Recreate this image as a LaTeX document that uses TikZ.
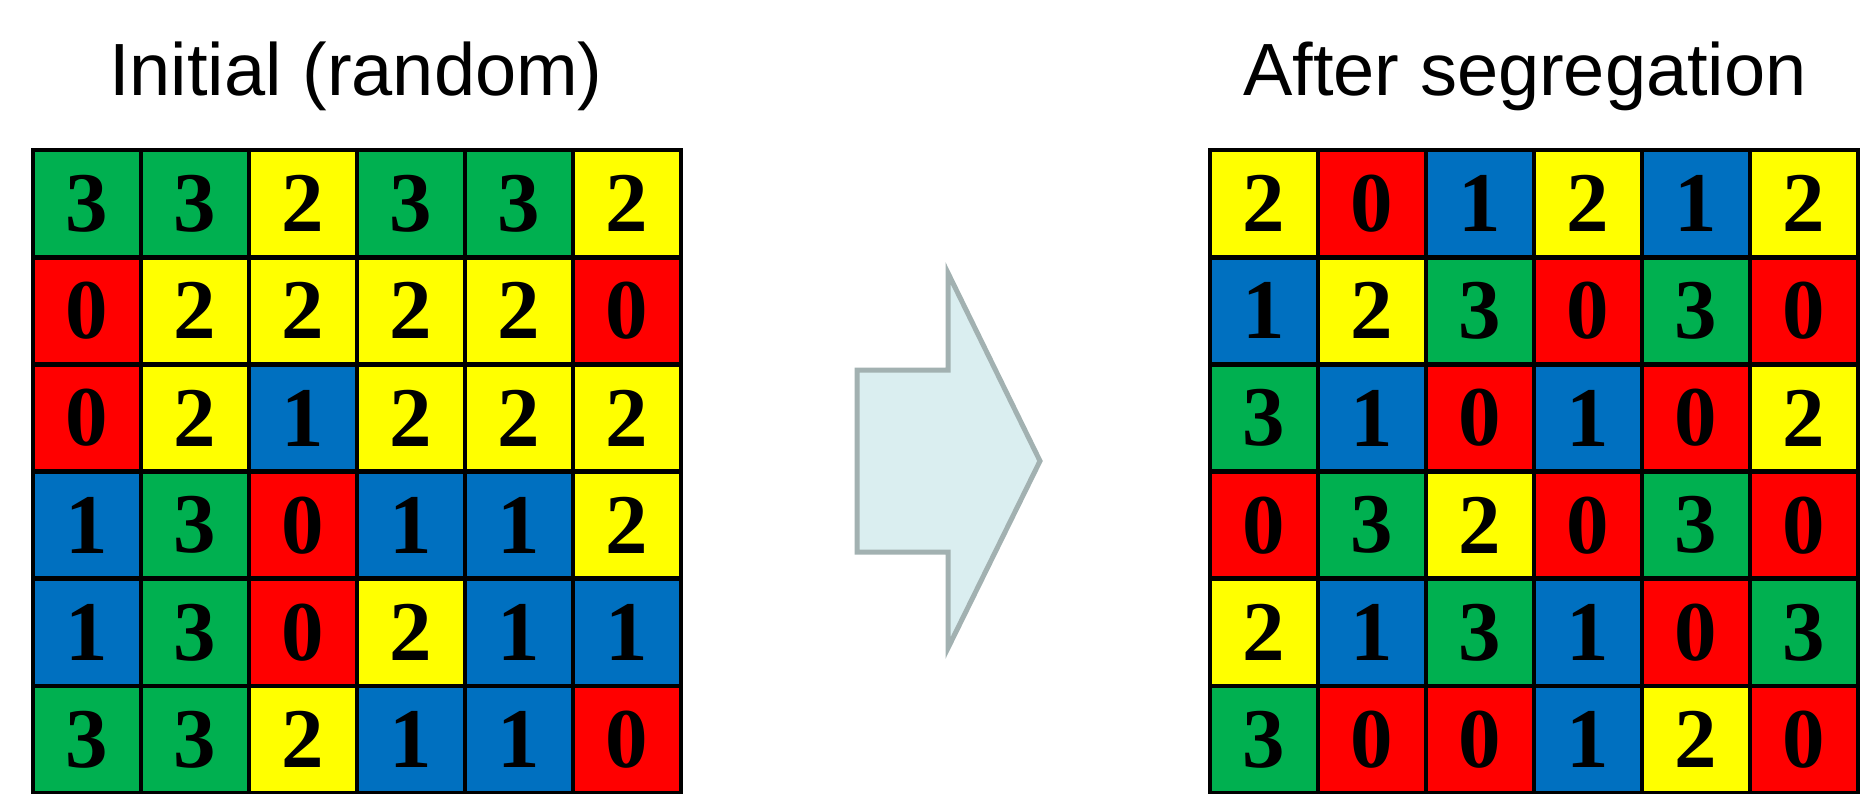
\documentclass[tikz,border=0pt]{standalone}
\usepackage{fontspec}
\setmainfont{Liberation Serif}
\newfontfamily\headfont{Liberation Sans}
\definecolor{c0}{HTML}{FF0000}
\definecolor{c1}{HTML}{0070C0}
\definecolor{c2}{HTML}{FFFF00}
\definecolor{c3}{HTML}{00B050}
\definecolor{arrowfill}{HTML}{DAEEF0}
\definecolor{arrowline}{HTML}{A2B1B1}
\begin{document}
\begin{tikzpicture}[x=0.5pt,y=-0.5pt,
  cell/.style={draw=black, line width=2.4pt, minimum width=54pt, minimum height=53.6pt,
    inner sep=0pt, font=\bfseries\fontsize{42.5}{42.5}\selectfont},
  heading/.style={anchor=base, inner sep=0pt, font=\headfont\fontsize{37}{37}\selectfont},
  bigarrow/.style={fill=arrowfill, draw=arrowline, line width=2.5pt, line join=miter}]
\useasboundingbox (0,0) rectangle (1864,793);
\clip (0,0) rectangle (1864,793);

% headings
\node[heading] (initial) at (356,95) {Initial (random)};
\node[heading] (after) at (1525,95) {After segregation};

% starting configuration
\foreach \row [count=\r] in {{3,3,2,3,3,2},{0,2,2,2,2,0},{0,2,1,2,2,2},{1,3,0,1,1,2},{1,3,0,2,1,1},{3,3,2,1,1,0}}
  \foreach \v [count=\c] in \row
    \node[cell, fill=c\v] (L-\r-\c) at ({33+108*(\c-0.5)},{150+107.2*(\r-0.5)}) {\v};

% configuration after segregation
\foreach \row [count=\r] in {{2,0,1,2,1,2},{1,2,3,0,3,0},{3,1,0,1,0,2},{0,3,2,0,3,0},{2,1,3,1,0,3},{3,0,0,1,2,0}}
  \foreach \v [count=\c] in \row
    \node[cell, fill=c\v] (R-\r-\c) at ({1210+108*(\c-0.5)},{150+107.2*(\r-0.5)}) {\v};

% block arrow between the two grids
\draw[bigarrow] (857,370) -- (948,370) -- (948,273) -- (1040,461) -- (948,648)
  -- (948,552) -- (857,552) -- cycle;
\end{tikzpicture}
\end{document}
